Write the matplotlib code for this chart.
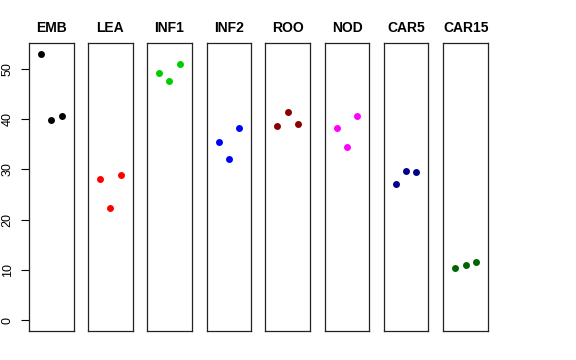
import matplotlib
matplotlib.use("Agg")
import matplotlib.pyplot as plt

groups = ["EMB", "LEA", "INF1", "INF2", "ROO", "NOD", "CAR5", "CAR15"]
colors = ["#000000", "#FF0000", "#00CD00", "#0000FF", "#8B0000", "#FF00FF", "#00008B", "#006400"]
values = {
    "EMB":   [53.0, 39.85, 40.6],
    "LEA":   [28.1, 22.4, 28.8],
    "INF1":  [49.25, 47.5, 51.0],
    "INF2":  [35.4, 32.0, 38.2],
    "ROO":   [38.65, 41.5, 39.0],
    "NOD":   [38.3, 34.4, 40.7],
    "CAR5":  [27.1, 29.7, 29.45],
    "CAR15": [10.47, 11.06, 11.6],
}
reps = [1, 2, 3]
yticks = [0, 10, 20, 30, 40, 50]

plt.rcParams['font.family'] = ['Liberation Sans', 'DejaVu Sans']
W, H = 576, 360
fig = plt.figure(figsize=(W / 100, H / 100), dpi=100)

lefts = [29, 88, 147, 206.7, 265.3, 324.7, 383.7, 443.3]
pw = 44.7
top, bottom = 43, 331
ymax = 53.0
yr = ymax - 0
for i, g in enumerate(groups):
    ax = fig.add_axes([lefts[i] / W, 1 - bottom / H, pw / W, (bottom - top) / H])
    ax.plot(reps, values[g], 'o', color=colors[i], ms=5, mec='none')
    ax.set_xlim(0 - 0.16, 4 + 0.16)
    ax.set_ylim(0 - 0.04 * yr, ymax + 0.04 * yr)
    ax.set_xticks([])
    ax.set_title(g, fontsize=10, fontweight='bold', pad=8)
    for s in ax.spines.values():
        s.set_linewidth(0.9)
        s.set_color('#222222')
    if i == 0:
        ax.set_yticks(yticks)
        ax.set_yticklabels([str(t) for t in yticks], rotation=90, va='center', fontsize=9)
        ax.tick_params(axis='y', length=5.5, width=0.8, pad=5.5)
    else:
        ax.set_yticks([])

fig.savefig("out.png", dpi=100)
